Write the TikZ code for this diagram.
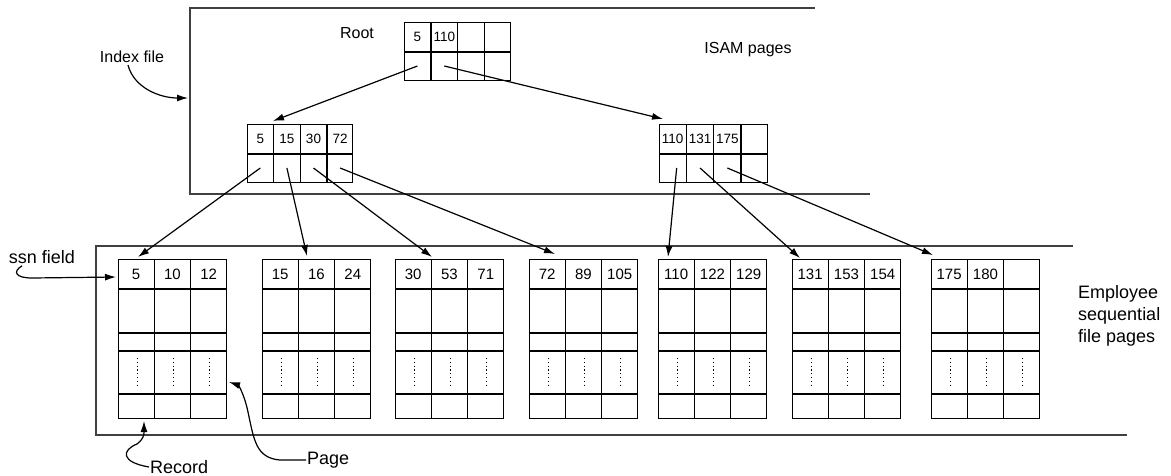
\documentclass[tikz,border=0pt]{standalone}
\usepackage{fontspec}
\setmainfont{Liberation Sans}
\usetikzlibrary{calc,arrows.meta}

\tikzset{
 pg/.style={draw, line width=1.4pt, rectangle, inner sep=0pt, anchor=north west},
 gridline/.style={line width=1.4pt},
 frame/.style={line width=1.9pt, draw=black!75},
 ptr/.style={line width=1.2pt, -{Latex[length=11pt,width=7pt]}},
 lbl/.style={font=\fontsize{16}{19}\selectfont, inner sep=0pt},
 blbl/.style={font=\fontsize{18}{22}\selectfont, inner sep=0pt},
 inum/.style={font=\fontsize{13.5}{16}\selectfont, inner sep=0pt},
 lnum/.style={font=\fontsize{15}{18}\selectfont, inner sep=0pt},
 dotcol/.style={line width=1.1pt, dash pattern=on 1.2pt off 2.6pt},
}

% index page: name, x, y, width, n1, n2, n3, n4
\newcommand\idxpg[8]{%
 \node[pg, minimum width=#4pt, minimum height=58pt] (#1) at (#2,#3) {};
 \draw[gridline] ([yshift=-30pt]#1.north west) -- ([yshift=-30pt]#1.north east);
 \foreach \i in {1,2,3}
   \draw[gridline] ($(#1.north west)!\i/4!(#1.north east)$) -- ($(#1.south west)!\i/4!(#1.south east)$);
 \node[inum] (#1-n1) at ($(#1.north west)!0.125!(#1.north east)+(0,15)$) {#5};
 \node[inum] (#1-n2) at ($(#1.north west)!0.375!(#1.north east)+(0,15)$) {#6};
 \node[inum] (#1-n3) at ($(#1.north west)!0.625!(#1.north east)+(0,15)$) {#7};
 \node[inum] (#1-n4) at ($(#1.north west)!0.875!(#1.north east)+(0,15)$) {#8};
 \coordinate (#1-p1) at ($(#1.north west)!0.125!(#1.north east)+(0,44)$);
 \coordinate (#1-p2) at ($(#1.north west)!0.375!(#1.north east)+(0,44)$);
 \coordinate (#1-p3) at ($(#1.north west)!0.625!(#1.north east)+(0,44)$);
 \coordinate (#1-p4) at ($(#1.north west)!0.875!(#1.north east)+(0,44)$);
}

% leaf page: name, x, n1, n2, n3
\newcommand\leafpg[5]{%
 \node[pg, minimum width=107.5pt, minimum height=159pt] (#1) at (#2,259) {};
 \foreach \d in {30pt,74pt,92pt,135pt}
   \draw[gridline] ([yshift=-\d]#1.north west) -- ([yshift=-\d]#1.north east);
 \foreach \i in {1,2}
   \draw[gridline] ($(#1.north west)!\i/3!(#1.north east)$) -- ($(#1.south west)!\i/3!(#1.south east)$);
 \node[lnum] (#1-n1) at ($(#1.north west)!1/6!(#1.north east)+(0,15)$) {#3};
 \node[lnum] (#1-n2) at ($(#1.north west)!1/2!(#1.north east)+(0,15)$) {#4};
 \node[lnum] (#1-n3) at ($(#1.north west)!5/6!(#1.north east)+(0,15)$) {#5};
 \foreach \j in {1/6,1/2,5/6}
   \draw[dotcol] ($(#1.north west)!\j!(#1.north east)+(1,99)$) -- ($(#1.north west)!\j!(#1.north east)+(1,128)$);
}

\begin{document}
\begin{tikzpicture}[x=1pt,y=-1pt]
\useasboundingbox (0,0) rectangle (1171,475);

% frames
\draw[frame] (815,8) -- (190,8) -- (190,194) -- (870,194);
\draw[frame] (1073,246) -- (96,246) -- (96,435) -- (1127,435);

% index pages
\idxpg{root}{404}{22}{106}{5}{110}{}{}
\idxpg{ia}{247}{124}{105}{5}{15}{30}{72}
\idxpg{ib}{659}{124}{108}{110}{131}{175}{}

% leaf pages
\leafpg{l1}{118}{5}{10}{12}
\leafpg{l2}{262}{15}{16}{24}
\leafpg{l3}{395}{30}{53}{71}
\leafpg{l4}{529}{72}{89}{105}
\leafpg{l5}{658}{110}{122}{129}
\leafpg{l6}{792}{131}{153}{154}
\leafpg{l7}{931}{175}{180}{}

% arrow targets
\coordinate (ta) at (273,121);
\coordinate (tb) at (663,119);
\coordinate (t1) at (138,257);
\coordinate (t2) at (307,256);
\coordinate (t3) at (432,257);
\coordinate (t4) at (555,254);
\coordinate (t5) at (668,257);
\coordinate (t6) at (800,258);
\coordinate (t7) at (933,255);
\coordinate (tidx) at (188,98);
\coordinate (tssn) at (116,277);
\coordinate (trec) at (144,421);
\coordinate (tpage) at (229,382);

\draw[ptr] (root-p1) -- (ta);
\draw[ptr] (root-p2) -- (tb);
\draw[ptr] (ia-p1) -- (t1);
\draw[ptr] (ia-p2) -- (t2);
\draw[ptr] (ia-p3) -- (t3);
\draw[ptr] (ia-p4) -- (t4);
\draw[ptr] ([xshift=4pt]ib-p1) -- (t5);
\draw[ptr] (ib-p2) -- (t6);
\draw[ptr] (ib-p3) -- (t7);

% labels
\node[lbl] (lroot) at (357,33) {Root};
\node[lbl] (lisam) at (748,50) {ISAM pages};
\node[lbl] (lindex) at (132,57) {Index file};
\node[blbl] (lssn) at (42,257) {ssn field};
\node[blbl, anchor=west] (lrec) at (150,467) {Record};
\node[blbl, anchor=west] (lpage) at (307,460) {Page};
\node[blbl, anchor=west, align=left] (lemp) at (1078,316) {Employee\\sequential\\file pages};

% label arrows
\draw[ptr] ([xshift=-4pt,yshift=-2pt]lindex.south) .. controls (134,88) and (160,98) .. (tidx);
\draw[ptr] ([xshift=-20pt,yshift=-2pt]lssn.south) .. controls (12,272) and (16,278) .. (32,278) -- (tssn);
\draw[ptr] ([xshift=-1pt]lrec.west) .. controls (120,462) and (122,450) .. (137,444) .. controls (145,438) and (144,432) .. (trec);
\draw[ptr] ([xshift=-1pt]lpage.west) -- (280,460) .. controls (256,458) and (254,440) .. (248,412) .. controls (244,393) and (238,385) .. (tpage);
\end{tikzpicture}
\end{document}
